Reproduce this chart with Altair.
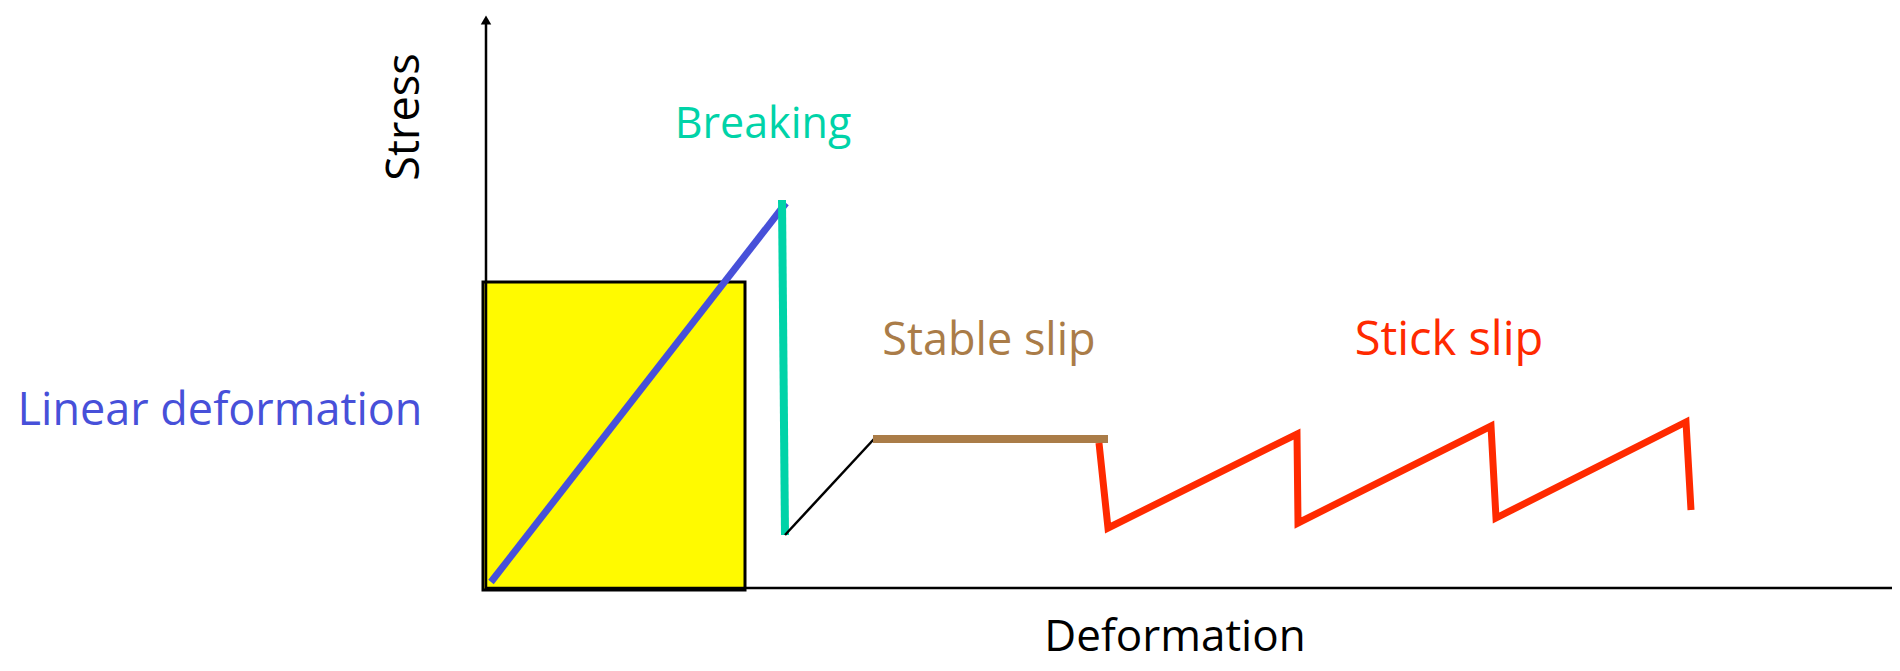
import altair as alt
import pandas as pd

# ---- data (deformation / stress units, origin at the axes corner) ----
linear_x = [0.5, 30.0]
linear_y = [0.6, 38.5]
breaking_x = [29.6, 29.9]
breaking_y = [38.8, 5.3]
transition_x = [29.9, 38.8]
transition_y = [5.3, 14.9]
stable_x = [38.7, 62.2]
stable_y = [14.9, 14.9]
stick_x = [61.3, 62.2, 81.1, 81.2, 100.5, 101.0, 120.0, 120.5]
stick_y = [14.5, 6.0, 15.4, 6.5, 16.2, 7.0, 16.6, 7.8]

box_x = [-0.3, 25.9]
box_y = [-0.2, 30.6]

label_text = ["Linear deformation", "Breaking", "Stable slip", "Stick slip", "Deformation"]
label_x = [-26.6, 27.7, 50.3, 96.3, 68.9]
label_y = [16.3, 45.0, 23.3, 23.3, -6.3]
label_color = ["#4750D9", "#00D3A8", "#AA7C48", "#FF2A00", "#000000"]

stress_label = "Stress"
stress_x = [-8.1]
stress_y = [47.1]

axis_top = 56.9
axis_right = 140.6

XDOM = [-47.8, 140.6]
YDOM = [-7.5, 58.0]
FONT = "Open Sans"

xs = alt.Scale(domain=XDOM, nice=False, zero=False)
ys = alt.Scale(domain=YDOM, nice=False, zero=False)


def seg(xv, yv):
    return pd.DataFrame({"x": xv, "y": yv, "o": list(range(len(xv)))})


def line_layer(xv, yv, color, width):
    return alt.Chart(seg(xv, yv)).mark_line(
        color=color, strokeWidth=width, strokeJoin="miter", clip=True
    ).encode(
        x=alt.X("x:Q", scale=xs, axis=None),
        y=alt.Y("y:Q", scale=ys, axis=None),
        order="o:Q",
    )


box = alt.Chart(pd.DataFrame({"x": [box_x[0]], "x2": [box_x[1]],
                              "y": [box_y[0]], "y2": [box_y[1]]})).mark_rect(
    fill="#FFFA00", stroke="#000000", strokeWidth=3
).encode(
    x=alt.X("x:Q", scale=xs, axis=None), x2="x2:Q",
    y=alt.Y("y:Q", scale=ys, axis=None), y2="y2:Q",
)

yaxis = line_layer([0, 0], [-0.1, axis_top], "#000000", 2.5)
xaxis = line_layer([0, axis_right], [0, 0], "#000000", 2.5)
arrow = alt.Chart(pd.DataFrame({"x": [0], "y": [axis_top - 0.1]})).mark_point(
    shape="triangle-up", filled=True, color="#000000", size=110, opacity=1
).encode(
    x=alt.X("x:Q", scale=xs, axis=None),
    y=alt.Y("y:Q", scale=ys, axis=None),
)

layers = [
    box, yaxis, xaxis, arrow,
    line_layer(linear_x, linear_y, "#4750D9", 7),
    line_layer(breaking_x, breaking_y, "#00D3A8", 8),
    line_layer(transition_x, transition_y, "#000000", 2.5),
    line_layer(stable_x, stable_y, "#AA7C48", 8),
    line_layer(stick_x, stick_y, "#FF2A00", 7),
]

sizes = [45, 43, 45, 47, 44]
for t, x, y, c, s in zip(label_text, label_x, label_y, label_color, sizes):
    layers.append(
        alt.Chart(pd.DataFrame({"x": [x], "y": [y], "t": [t]})).mark_text(
            font=FONT, fontSize=s, color=c, align="center", baseline="alphabetic"
        ).encode(
            x=alt.X("x:Q", scale=xs, axis=None),
            y=alt.Y("y:Q", scale=ys, axis=None),
            text="t:N",
        )
    )

layers.append(
    alt.Chart(pd.DataFrame({"x": stress_x, "y": stress_y, "t": [stress_label]})).mark_text(
        font=FONT, fontSize=45, color="#000000", align="center", baseline="middle", angle=270
    ).encode(
        x=alt.X("x:Q", scale=xs, axis=None),
        y=alt.Y("y:Q", scale=ys, axis=None),
        text="t:N",
    )
)

chart = alt.layer(*layers).properties(
    width=1884, height=655, padding=0,
    autosize=alt.AutoSizeParams(type="none"),
    background="#FFFFFF",
).configure_view(stroke=None)

chart.save("out.html", embed_options={"renderer": "svg", "actions": False})
